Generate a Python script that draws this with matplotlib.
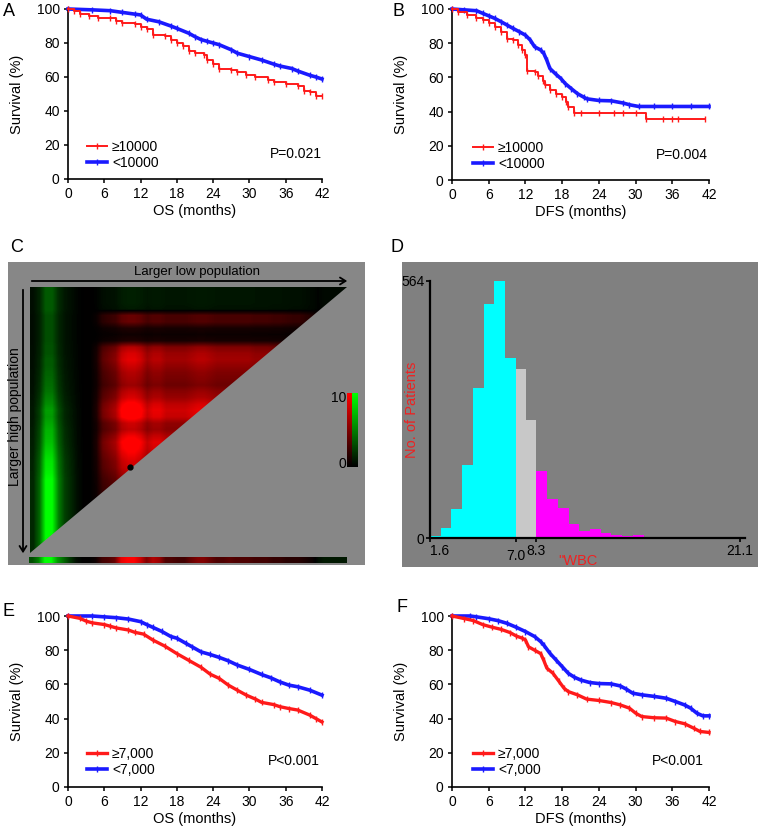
import numpy as np
import matplotlib
matplotlib.use("Agg")
import matplotlib.pyplot as plt
from matplotlib.colors import LinearSegmentedColormap
from matplotlib.patches import Polygon, FancyArrowPatch

plt.rcParams['font.family'] = ['Liberation Sans', 'DejaVu Sans']

# ---------------- data ----------------
# Panel A (OS, cutoff 10000)
A_hi_t = [0, 1, 2, 3.5, 5, 7, 8, 9, 11, 12, 13, 14, 16, 17, 18, 19, 20, 21, 22.5, 23, 24, 25, 27, 28, 29.5, 31, 33, 34, 36, 38, 39, 40, 41, 42]
A_hi_s = [100, 99, 97, 96, 95, 95, 93, 92, 91, 89.6, 88, 85, 84, 82, 80, 78, 75.5, 74, 73, 70, 67.5, 65, 64, 63, 61, 60, 58, 57, 56, 54.7, 52, 51, 49, 49]
A_lo_t = [0, 4, 7, 9, 11, 12, 13, 15, 17, 18, 20, 21, 22, 23, 24, 25, 27, 28, 30, 32, 34, 35, 37, 38, 40, 41, 42]
A_lo_s = [100, 99.5, 99, 98, 97, 96.5, 94, 92.5, 90, 88.6, 85.7, 83.7, 82, 81, 80, 79, 76, 74, 72, 70, 67.6, 66.5, 65, 63.5, 61, 60, 58.8]
# Panel B (DFS, cutoff 10000)
B_hi_t = [0, 1, 2.5, 4, 5, 6, 7, 8, 9, 10, 10.8, 11.5, 12, 12.3, 13.5, 14, 14.8, 15.2, 16, 17, 18, 18.7, 19, 20, 21, 24, 26.5, 28, 30, 31.7, 34.5, 36, 37, 41.3]
B_hi_s = [100, 98, 96.3, 95, 93.7, 91.8, 89.4, 86.7, 82.6, 82, 78.7, 75.8, 73, 64, 63, 61, 58, 55.4, 52.4, 50.5, 48.5, 45.6, 42.7, 39, 39, 39, 39, 39, 39, 35.6, 35.6, 35.6, 35.6, 35.6]
B_lo_t = [0, 2, 4, 5, 6, 7, 8, 9, 10, 11, 12, 12.8, 13.5, 14.5, 15, 15.5, 16, 17, 17.8, 18.5, 19.5, 20.5, 21.5, 22, 24, 26, 28, 29, 30.5, 33, 36, 39, 42]
B_lo_s = [100, 99.5, 99, 97.5, 96, 94.5, 92.6, 90.6, 88.6, 86.7, 84.7, 81.8, 77.9, 76, 74, 70, 65.2, 61.8, 59.3, 56.4, 53.4, 50.5, 48.5, 47.5, 46.5, 46.3, 45, 44, 43, 43, 43, 43, 43]
# Panel E (OS, cutoff 7000)
E_hi_t = [0, 2, 3, 4, 6, 7, 8, 10, 11, 12.5, 14, 16, 18, 20, 22, 23.5, 25, 26.5, 28, 29.5, 31, 32, 34, 35, 36.5, 38, 40, 41, 42]
E_hi_s = [100, 98.6, 97, 96, 95, 94, 93, 91.8, 90.5, 89.4, 86, 82.4, 78, 74, 70, 66, 63.5, 59.6, 56.6, 53.7, 51.4, 49.5, 48.2, 47, 45.9, 45, 42, 40, 38]
E_lo_t = [0, 4, 6, 8, 10, 12, 13, 14, 15.5, 17, 18, 19.5, 20.5, 22, 23.5, 25, 26.5, 28, 30, 32, 33.5, 35, 36.5, 38, 40, 42]
E_lo_s = [100, 100, 99.5, 99, 98.2, 96.7, 95, 93.4, 91, 88, 87, 84, 82, 79, 77.5, 75.8, 73.8, 71.3, 68.75, 65.8, 63.9, 61.5, 59.6, 58.6, 56.6, 53.7]
# Panel F (DFS, cutoff 7000)
F_hi_t = [0, 2, 3.5, 5, 6.5, 8, 9.5, 10.5, 11.5, 12, 12.5, 13.5, 14.5, 15, 15.5, 16.5, 17.5, 18.3, 19, 20.5, 22, 24, 26, 27.5, 29, 30, 31, 33, 35, 36.5, 38, 39.5, 40.5, 42]
F_hi_s = [100, 98.5, 97.3, 95, 93.5, 92.2, 90.3, 88.3, 87, 86, 82, 80, 78, 74, 69.5, 66.5, 61.7, 57.8, 55.8, 53.9, 51.4, 50.6, 49.4, 48, 46.1, 43.2, 41.2, 40.5, 40.3, 38.3, 37, 34.4, 32.5, 31.9]
F_lo_t = [0, 3, 4, 6, 7.5, 9, 10.5, 12, 13.5, 14.5, 15, 16, 17, 18, 19, 20, 21, 22.5, 24, 26, 27.5, 28.5, 29.5, 31, 33, 35, 36.5, 38, 39, 40, 41, 42]
F_lo_s = [100, 100, 99.5, 98.4, 97.3, 95.7, 93.4, 90.9, 88, 85, 83, 78.2, 74.3, 70.4, 66.5, 64.2, 62.6, 61.1, 60.5, 60.3, 59.1, 57.2, 54.9, 53.9, 53, 51.9, 50, 48, 46.1, 43.2, 41.6, 41.6]

labels_10000 = ['\u226510000', '<10000']
labels_7000 = ['\u22657,000', '<7,000']
p_values = ['P=0.021', 'P=0.004', 'P<0.001', 'P<0.001']
x_ticks = [0, 6, 12, 18, 24, 30, 36, 42]
y_ticks = [0, 20, 40, 60, 80, 100]

# Panel C (X-tile): column signal (+ red, - green) and row gains
col_signal = [-1.5, -4, -10, -10, -5, -2.5, -1.5, -0.5, 0, 0, 1, 4, 5, 6, 9, 10, 10, 9, 7, 8,
              8, 7, 7, 7, 7, 7.5, 8, 8, 7.5, 7, 7, 7, 7, 7, 7, 6.5, 6.5, 6.5, 6, 6,
              5.5, 5, 5, 4, 3, 1, -1, -1, -1, -1]
row_red_gain = [-0.12, -0.12, -0.12, -0.1, 0.4, 0.4, 0.12, 0.06, 0.12, 0.7, 0.85, 0.9, 0.8, 0.7,
                0.65, 0.6, 0.75, 0.85, 1.05, 1.15, 1.1, 0.8, 0.75, 0.95, 1.1, 1.05, 0.95, 0.85,
                0.8, 0.7, 0.6, 0.55, 0.5, 0.45, 0.45, 0.4, 0.35, 0.3, 0.3, 0.25, 0.2, 0.2]
row_green_gain = [0.35, 0.35, 0.35, 0.35, 0.3, 0.3, 0.3, 0.3, 0.3, 0.32, 0.32, 0.35, 0.35, 0.38,
                  0.4, 0.42, 0.45, 0.5, 0.55, 0.62, 0.6, 0.65, 0.7, 0.72, 0.75, 0.8, 0.85, 0.9,
                  0.92, 0.95, 1.0, 1.0, 1.0, 1.0, 1.0, 1.0, 1.0, 1.0, 1.0, 1.0, 1.0, 1.0]
strip_signal = [-3, -5, -10, -10, -6, -4, -2, -0.5, 0, 0, 0.5, 2.5, 3, 4, 9, 10, 10, 8, 5, 7,
                6, 3, 3, 2.5, 2.5, 4, 5, 5, 4, 3, 3, 3.5, 3, 3, 3, 2.5, 2.5, 2.5, 2, 2,
                1.5, 1.5, 1.5, 1, 0.5, -0.5, -1, -1, -1, -1]
optimal_cut = (15.8, 28.4)  # (column, row) of the selected cut point
cbar_range = (0, 10)

# Panel D histogram
wbc_min, cut_low, cut_high, wbc_max = 1.6, 7.0, 8.3, 21.1
counts_low = [4, 21, 64, 161, 329, 514, 564, 396]          # 1.6 - 7.0
counts_mid = [371, 259]                                     # 7.0 - 8.3
counts_high = [146, 85, 66, 31, 15, 20, 12, 6, 4, 7, 2, 2, 1, 1, 1, 0, 0, 1, 1]  # 8.3 - 21.1
hist_ymax = 564

# ---------------- layout helpers ----------------
W, H = 760, 832
fig = plt.figure(figsize=(W / 100, H / 100), dpi=100)
fig.patch.set_facecolor('white')


def rect(x0, y0, x1, y1):
    return [x0 / W, 1 - y1 / H, (x1 - x0) / W, (y1 - y0) / H]


def fxy(x, y):
    return (x / W, 1 - y / H)


RED = '#ff1a1a'
BLUE = '#1a1aff'
FS = 10


def km_panel(box, hi, lo, hi_lw, hi_steps, labels, xlabel, ptxt, p_pos, leg_anchor):
    ax = fig.add_axes(rect(*box))
    ax.plot(hi[0], hi[1], color=RED, lw=hi_lw, drawstyle='steps-post' if hi_steps else 'default',
            marker='|', ms=4, mew=1.0, clip_on=False, label=labels[0], zorder=3)
    ax.plot(lo[0], lo[1], color=BLUE, lw=2.6, marker='|', ms=4, mew=1.0,
            clip_on=False, label=labels[1], zorder=2)
    ax.set_xlim(0, 42)
    ax.set_ylim(0, 100)
    ax.set_xticks(x_ticks)
    ax.set_yticks(y_ticks)
    for s in ['top', 'right']:
        ax.spines[s].set_visible(False)
    for s in ['left', 'bottom']:
        ax.spines[s].set_linewidth(1.2)
    ax.tick_params(direction='out', length=3, width=1.1, labelsize=FS, pad=3)
    ax.set_xlabel(xlabel, fontsize=10.5, labelpad=2)
    ax.set_ylabel('Survival (%)', fontsize=10.5, labelpad=9)
    ax.text(p_pos[0], p_pos[1], ptxt, transform=ax.transAxes, ha='right', va='center', fontsize=FS)
    ax.legend(loc='lower left', bbox_to_anchor=leg_anchor, frameon=False, fontsize=FS,
              handlelength=1.45, handletextpad=0.35, labelspacing=0.12, borderpad=0,
              borderaxespad=0, numpoints=1)
    return ax


km_panel((68, 9, 322, 179), (A_hi_t, A_hi_s), (A_lo_t, A_lo_s), 1.4, True, labels_10000,
         'OS (months)', p_values[0], (1.0, 0.147), (0.075, 0.055))
km_panel((452, 9, 709, 180), (B_hi_t, B_hi_s), (B_lo_t, B_lo_s), 1.4, True, labels_10000,
         'DFS (months)', p_values[1], (0.996, 0.146), (0.082, 0.055))
km_panel((68, 616, 322, 787), (E_hi_t, E_hi_s), (E_lo_t, E_lo_s), 2.4, False, labels_7000,
         'OS (months)', p_values[2], (0.992, 0.152), (0.075, 0.06))
km_panel((452, 616, 709, 787), (F_hi_t, F_hi_s), (F_lo_t, F_lo_s), 2.4, False, labels_7000,
         'DFS (months)', p_values[3], (0.98, 0.152), (0.082, 0.06))

# ---------------- panel C ----------------
GRAY_C = '#878787'
bgC = fig.add_axes(rect(8, 262, 365, 565))
bgC.set_facecolor(GRAY_C)
bgC.set_xticks([]); bgC.set_yticks([])
for s in bgC.spines.values():
    s.set_visible(False)

cmap_gr = LinearSegmentedColormap.from_list('gkr', ['#00ff00', '#000000', '#ff0000'])
sig = np.array(col_signal, dtype=float)
gain = np.where(sig[None, :] > 0, np.array(row_red_gain)[:, None], np.array(row_green_gain)[:, None])
M = sig[None, :] * gain
NR, NC = M.shape

axC = fig.add_axes(rect(30, 287, 347, 553))
axC.imshow(M, cmap=cmap_gr, vmin=-10, vmax=10, aspect='auto', interpolation='bilinear',
           extent=(0, NC, NR, 0))
axC.add_patch(Polygon([(0, 0), (1, 0), (1, 1)], closed=True, transform=axC.transAxes,
                      facecolor=GRAY_C, edgecolor='none', zorder=3))
axC.plot([optimal_cut[0]], [optimal_cut[1]], 'o', color='black', ms=3.5, zorder=4)
axC.set_xlim(0, NC); axC.set_ylim(NR, 0)
axC.axis('off')

axS = fig.add_axes(rect(29, 557, 347, 563))
axS.imshow(np.array(strip_signal)[None, :], cmap=cmap_gr, vmin=-10, vmax=10, aspect='auto',
           interpolation='bilinear')
axS.axis('off')

grad = np.linspace(cbar_range[1], cbar_range[0], 60)[:, None]
axR = fig.add_axes(rect(347, 393, 352, 467))
axR.imshow(grad, cmap=LinearSegmentedColormap.from_list('kr', ['#000000', '#ff0000']),
           vmin=cbar_range[0], vmax=cbar_range[1], aspect='auto')
axR.axis('off')
axG = fig.add_axes(rect(352, 393, 358, 467))
axG.imshow(grad, cmap=LinearSegmentedColormap.from_list('kg', ['#000000', '#00ff00']),
           vmin=cbar_range[0], vmax=cbar_range[1], aspect='auto')
axG.axis('off')
fig.text(*fxy(346, 398), str(cbar_range[1]), ha='right', va='center', fontsize=FS)
fig.text(*fxy(346, 464), str(cbar_range[0]), ha='right', va='center', fontsize=FS)

fig.add_artist(FancyArrowPatch(fxy(29, 281), fxy(350, 281),
               transform=fig.transFigure, arrowstyle='->,head_length=4,head_width=2.5',
               color='black', lw=1.3, mutation_scale=1))
fig.add_artist(FancyArrowPatch(fxy(23, 287), fxy(23, 556),
               transform=fig.transFigure, arrowstyle='->,head_length=4,head_width=2.5',
               color='black', lw=1.3, mutation_scale=1))
fig.text(*fxy(197, 272), 'Larger low population', ha='center', va='center', fontsize=9.5)
fig.text(*fxy(15, 417), 'Larger high population', ha='center', va='center', fontsize=10, rotation=90)

# ---------------- panel D ----------------
GRAY_D = '#808080'
bgD = fig.add_axes(rect(402, 262, 758, 567))
bgD.set_facecolor(GRAY_D)
bgD.set_xticks([]); bgD.set_yticks([])
for s in bgD.spines.values():
    s.set_visible(False)

axD = fig.add_axes(rect(430, 281, 745, 538))
axD.set_facecolor('none')
w_low = (cut_low - wbc_min) / len(counts_low)
w_mid = (cut_high - cut_low) / len(counts_mid)
w_high = (wbc_max - cut_high) / len(counts_high)
e_low = wbc_min + w_low * np.arange(len(counts_low))
e_mid = cut_low + w_mid * np.arange(len(counts_mid))
e_high = cut_high + w_high * np.arange(len(counts_high))
axD.bar(e_low, counts_low, width=w_low, align='edge', color='#00ffff', linewidth=0)
axD.bar(e_mid, counts_mid, width=w_mid, align='edge', color='#c8c8c8', linewidth=0)
axD.bar(e_high, counts_high, width=w_high, align='edge', color='#ff00ff', linewidth=0)
axD.set_xlim(wbc_min, 21.42)
axD.set_ylim(0, hist_ymax)
for s in ['top', 'right']:
    axD.spines[s].set_visible(False)
for s in ['left', 'bottom']:
    axD.spines[s].set_linewidth(1.6)
axD.set_yticks([0, hist_ymax])
axD.set_yticklabels(['0', str(hist_ymax)])
axD.set_xticks([wbc_min, cut_low, cut_high, wbc_max])
axD.set_xticklabels([f'{wbc_min:.1f}', f'{cut_low:.1f}', f'{cut_high:.1f}', f'{wbc_max:.1f}'])
axD.tick_params(direction='out', length=3, width=1.2, labelsize=FS, pad=1)
xt = axD.xaxis.get_major_ticks()
xt[1].set_pad(5)
axD.get_xticklabels()[0].set_ha('left')
fig.text(*fxy(412, 410), 'No. of Patients', color='#ee2222', rotation=90, ha='center', va='center', fontsize=10.5)
fig.text(*fxy(578, 561), '"WBC', color='#ee2222', ha='center', va='center', fontsize=10.5)

# ---------------- panel letters ----------------
for letter, (x, y) in zip('ABCDEF', [(8.5, 11.5), (398.5, 11), (17, 247), (397, 248), (8, 611), (402, 607)]):
    fig.text(*fxy(x, y), letter, ha='center', va='center', fontsize=13)

fig.savefig('out.png', dpi=100, facecolor='white')
